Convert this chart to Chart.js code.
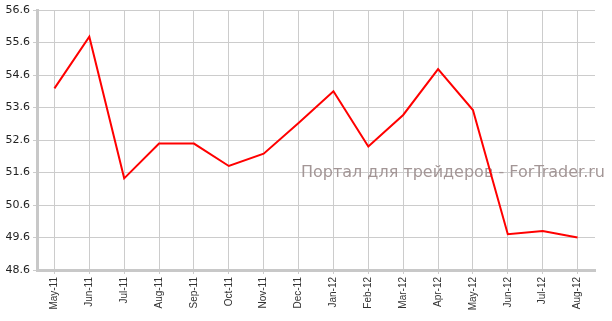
<!DOCTYPE html>
<html>
<head>
<meta charset="utf-8">
<script src="https://cdn.jsdelivr.net/npm/chart.js@4/dist/chart.umd.min.js"></script>
<style>
  html, body { margin: 0; padding: 0; background: #fff; }
  #wrap { width: 612px; height: 321px; position: relative; }
</style>
</head>
<body>
<div id="wrap"><canvas id="grafico"></canvas></div>
<script>
// Meses (eje X)
const meses = ['May-11', 'Jun-11', 'Jul-11', 'Aug-11', 'Sep-11', 'Oct-11', 'Nov-11', 'Dec-11',
               'Jan-12', 'Feb-12', 'Mar-12', 'Apr-12', 'May-12', 'Jun-12', 'Jul-12', 'Aug-12'];

// Valores de la serie
const valores = [54.19, 55.78, 51.42, 52.49, 52.49, 51.80, 52.18, 53.12,
                 54.10, 52.40, 53.37, 54.78, 53.52, 49.70, 49.80, 49.60];

// Eje Y
const yMin = 48.6;
const yMax = 56.6;
const yPaso = 1;

const marcaAgua = 'Портал для трейдеров - ForTrader.ru';

// Texto de fondo, se dibuja antes de la línea
const pluginMarcaAgua = {
    id: 'marcaAgua',
    beforeDatasetsDraw(chart) {
        const ctx = chart.ctx;
        ctx.save();
        ctx.font = '16px "DejaVu Sans"';
        ctx.fillStyle = '#a39696';
        ctx.textAlign = 'right';
        ctx.textBaseline = 'alphabetic';
        ctx.fillText(marcaAgua, 605, 177);
        ctx.restore();
    }
};

const colorGrilla = '#cccccc';
const colorEje = '#c8c8c8';

const ctx = document.getElementById('grafico').getContext('2d');

window.chartLinea = new Chart(ctx, {
    type: 'line',
    data: {
        labels: meses,
        datasets: [{
            data: valores,
            borderColor: '#ff0000',
            borderWidth: 2,
            pointRadius: 0,
            tension: 0,
            fill: false
        }]
    },
    options: {
        responsive: true,
        maintainAspectRatio: false,
        animation: false,
        layout: {
            padding: { top: 10, right: 17, left: 0, bottom: 0 }
        },
        plugins: {
            legend: { display: false },
            tooltip: { enabled: false }
        },
        scales: {
            x: {
                offset: true,
                grid: {
                    offset: false,
                    color: colorGrilla,
                    lineWidth: 1,
                    tickLength: 4
                },
                border: { color: colorEje, width: 3 },
                ticks: {
                    minRotation: 90,
                    maxRotation: 90,
                    autoSkip: false,
                    color: '#333',
                    padding: 3,
                    font: { family: '"Liberation Sans", Arial', size: 10 }
                },
                afterFit(scale) { scale.height = 51; }
            },
            y: {
                min: yMin,
                max: yMax,
                grid: {
                    color: colorGrilla,
                    lineWidth: 1,
                    tickLength: 4
                },
                border: { color: colorEje, width: 3 },
                ticks: {
                    stepSize: yPaso,
                    color: '#222',
                    padding: 3,
                    font: { family: '"DejaVu Sans", Verdana', size: 11 },
                    callback: (v) => Number(v).toFixed(1)
                },
                afterFit(scale) { scale.width = 37; }
            }
        }
    },
    plugins: [pluginMarcaAgua]
});
</script>
</body>
</html>
